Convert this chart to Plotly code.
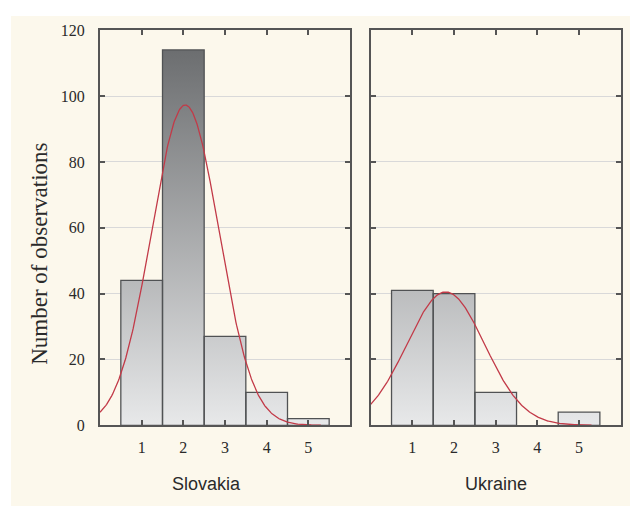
import numpy as np
import plotly.graph_objects as go

# ---- data ----
categories = [1, 2, 3, 4, 5]
slovakia_counts = [44, 114, 27, 10, 2]
ukraine_counts = [41, 40, 10, 0, 4]
panel_titles = ["Slovakia", "Ukraine"]
y_ticks = [0, 20, 40, 60, 80, 100, 120]
y_title = "Number of observations"

W, H = 638, 507
OFF = 8  # the page body margin shifts the figure by 8 px right and down

def px(x):  # target screen x -> paper fraction
    return (x - OFF) / W

def py(y):  # target screen y -> paper fraction
    return 1 - (y - OFF) / H

BAR_LINE = "#505254"
AX = "#555555"
CURVE = "#c23a48"

fig = go.Figure()

def bar_polygons(cats, counts):
    xs, ys = [], []
    for c, v in zip(cats, counts):
        if v <= 0:
            continue
        xs += [c - 0.5, c - 0.5, c + 0.5, c + 0.5, c - 0.5, None]
        ys += [0, v, v, 0, 0, None]
    return xs, ys

def normal_curve(cats, counts):
    c = np.array(cats, float)
    n = np.array(counts, float)
    N = n.sum()
    mu = (c * n).sum() / N
    sd = np.sqrt(((c - mu) ** 2 * n).sum() / N)
    xx = np.linspace(0, 5.3, 300)
    yy = N * np.exp(-0.5 * ((xx - mu) / sd) ** 2) / (sd * np.sqrt(2 * np.pi))
    return xx, yy

for i, counts in enumerate([slovakia_counts, ukraine_counts]):
    xa = "x" if i == 0 else "x2"
    ya = "y" if i == 0 else "y2"
    bx, by = bar_polygons(categories, counts)
    fig.add_trace(go.Scatter(
        x=bx, y=by, mode="lines", fill="toself",
        line=dict(color=BAR_LINE, width=1.3),
        fillgradient=dict(type="vertical", start=0, stop=114,
                          colorscale=[[0, "#ecedee"], [1, "#6c6e70"]]),
        xaxis=xa, yaxis=ya, showlegend=False, hoverinfo="skip"))
    cx, cy = normal_curve(categories, counts)
    fig.add_trace(go.Scatter(
        x=cx, y=cy, mode="lines", line=dict(color=CURVE, width=1.3),
        xaxis=xa, yaxis=ya, showlegend=False, hoverinfo="skip"))

common_x = dict(range=[0, 6], tickvals=categories, showgrid=False, zeroline=False,
                showline=True, linecolor=AX, linewidth=2, mirror="allticks",
                ticks="inside", ticklen=5, tickwidth=1.5, tickcolor=AX,
                tickfont=dict(family="Liberation Serif", size=16, color="#2a2a2a"),
                ticklabelstandoff=7)
common_y = dict(range=[0, 120], tickvals=y_ticks, showgrid=True, gridcolor="#d9d9d9",
                gridwidth=1, zeroline=False, showline=True, linecolor=AX, linewidth=2,
                mirror="allticks", ticks="inside", ticklen=5, tickwidth=1.5, tickcolor=AX,
                tickfont=dict(family="Liberation Serif", size=16, color="#2a2a2a"),
                ticklabelstandoff=10)

fig.update_layout(
    width=W, height=H, autosize=False,
    margin=dict(l=0, r=0, t=0, b=0),
    paper_bgcolor="white", plot_bgcolor="white",
    xaxis=dict(domain=[px(100), px(350)], anchor="y", **common_x),
    yaxis=dict(domain=[py(431.5), py(22.7)], anchor="x", **common_y),
    xaxis2=dict(domain=[px(370.7), px(620.7)], anchor="y2", **common_x),
    yaxis2=dict(domain=[py(431.5), py(22.7)], anchor="x2", showticklabels=False,
                **{k: v for k, v in common_y.items() if k not in ("tickfont", "ticklabelstandoff")}),
    shapes=[dict(type="rect", xref="paper", yref="paper", x0=px(11), x1=1, y0=0, y1=1,
                 fillcolor="#fcf8ec", line=dict(width=0), layer="below")],
    annotations=[
        dict(text=panel_titles[0], x=px(206), y=py(492), xref="paper", yref="paper",
             showarrow=False, xanchor="center", yanchor="middle",
             font=dict(family="Liberation Sans", size=18, color="#2a2a2a")),
        dict(text=panel_titles[1], x=px(495.5), y=py(492), xref="paper", yref="paper",
             showarrow=False, xanchor="center", yanchor="middle",
             font=dict(family="Liberation Sans", size=18, color="#2a2a2a")),
        dict(text=y_title, x=px(40), y=py(254), xref="paper", yref="paper",
             showarrow=False, xanchor="center", yanchor="middle", textangle=-90,
             font=dict(family="Liberation Serif", size=23, color="#2a2a2a")),
    ],
)

fig.write_html("out.html")
